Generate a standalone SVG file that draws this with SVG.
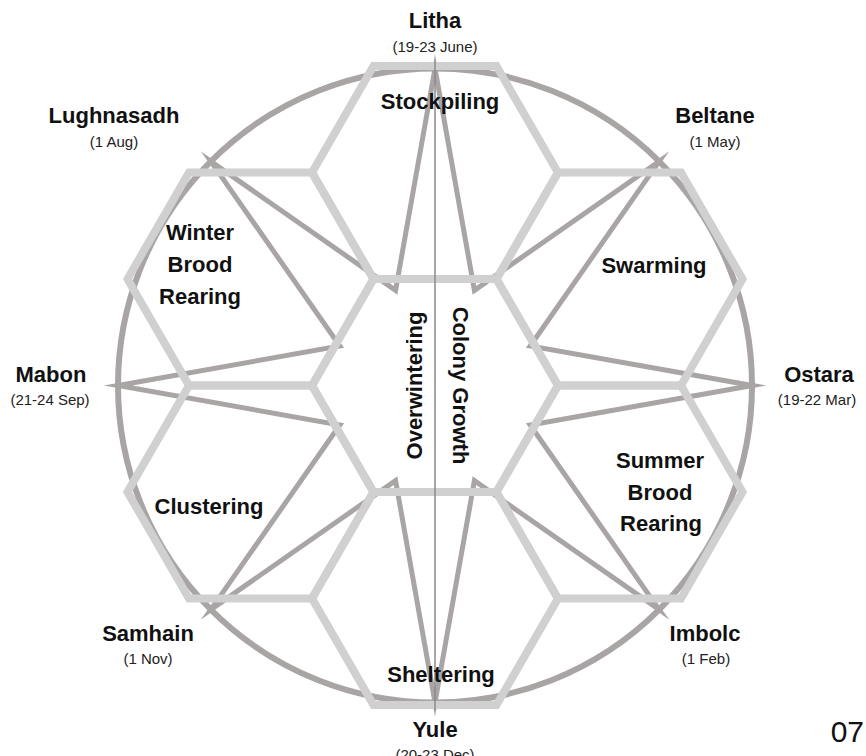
<svg xmlns="http://www.w3.org/2000/svg" width="866" height="756" viewBox="0 0 866 756">
<style>
.ring{fill:none;stroke:#a9a5a5;stroke-width:6}
.star{fill:none;stroke:#a9a5a5;stroke-width:5;stroke-linejoin:miter;stroke-miterlimit:12}
.hex{fill:none;stroke:#d0d0d0;stroke-width:8;stroke-linejoin:miter}
.axis{stroke:#8c8888;stroke-width:1.5}
.big{font-family:"Liberation Sans",Arial,sans-serif;font-weight:bold;font-size:22px;fill:#111;text-anchor:middle}
.small{font-family:"Liberation Sans",Arial,sans-serif;font-size:15px;fill:#222;text-anchor:middle}
.num{font-family:"Liberation Sans",Arial,sans-serif;font-size:30px;fill:#111;text-anchor:end}
</style>
<rect width="866" height="756" fill="#fff"/>
<g id="wheel">
<circle class="ring" cx="435" cy="385.5" r="317"/>
</g>
<g id="connectors">
<polygon class="star" points="435,68.5 474.42,290.34 659.15,161.35 530.16,346.08 752,385.5 530.16,424.92 659.15,609.65 474.42,480.66 435,702.5 395.58,480.66 210.85,609.65 339.84,424.92 118,385.5 339.84,346.08 210.85,161.35 395.58,290.34"/>
</g>
<g id="honeycomb">
<g id="hex-center"><polygon class="hex" points="558,385.5 496.5,279 373.5,279 312,385.5 373.5,492 496.5,492"/></g>
<g id="hex-stockpiling"><polygon class="hex" points="558,172.5 496.5,66 373.5,66 312,172.5 373.5,279 496.5,279"/></g>
<g id="hex-sheltering"><polygon class="hex" points="558,598.5 496.5,492 373.5,492 312,598.5 373.5,705 496.5,705"/></g>
<g id="hex-swarming"><polygon class="hex" points="742.5,279 681,172.5 558,172.5 496.5,279 558,385.5 681,385.5"/></g>
<g id="hex-summer"><polygon class="hex" points="742.5,492 681,385.5 558,385.5 496.5,492 558,598.5 681,598.5"/></g>
<g id="hex-winter"><polygon class="hex" points="373.5,279 312,172.5 189,172.5 127.5,279 189,385.5 312,385.5"/></g>
<g id="hex-clustering"><polygon class="hex" points="373.5,492 312,385.5 189,385.5 127.5,492 189,598.5 312,598.5"/></g>
</g>
<line class="axis" x1="435" y1="62" x2="435" y2="710"/>
<g id="phases">
<g id="stockpiling"><text class="big" x="440" y="109">Stockpiling</text></g>
<g id="swarming"><text class="big" x="654" y="273">Swarming</text></g>
<g id="summer-brood"><text class="big" x="660" y="468">Summer</text><text class="big" x="660" y="500">Brood</text><text class="big" x="661" y="531">Rearing</text></g>
<g id="sheltering"><text class="big" x="441" y="682">Sheltering</text></g>
<g id="clustering"><text class="big" x="209" y="514">Clustering</text></g>
<g id="winter-brood"><text class="big" x="200" y="240">Winter</text><text class="big" x="200" y="272">Brood</text><text class="big" x="200" y="304">Rearing</text></g>
<g id="overwintering"><text class="big" x="422" y="385.5" transform="rotate(-90 422 385.5)">Overwintering</text></g>
<g id="colony-growth"><text class="big" x="453" y="385.5" transform="rotate(90 453 385.5)">Colony Growth</text></g>
</g>
<g id="sabbats">
<g id="litha"><text class="big" x="435" y="28">Litha</text><text class="small" x="435" y="52">(19-23 June)</text></g>
<g id="beltane"><text class="big" x="715" y="123">Beltane</text><text class="small" x="715" y="147">(1 May)</text></g>
<g id="ostara"><text class="big" x="819" y="382">Ostara</text><text class="small" x="817" y="405">(19-22 Mar)</text></g>
<g id="imbolc"><text class="big" x="705" y="641">Imbolc</text><text class="small" x="706" y="664">(1 Feb)</text></g>
<g id="yule"><text class="big" x="435" y="737">Yule</text><text class="small" x="435" y="760">(20-23 Dec)</text></g>
<g id="samhain"><text class="big" x="148" y="641">Samhain</text><text class="small" x="148" y="664">(1 Nov)</text></g>
<g id="mabon"><text class="big" x="51" y="382">Mabon</text><text class="small" x="50" y="405">(21-24 Sep)</text></g>
<g id="lughnasadh"><text class="big" x="114" y="123">Lughnasadh</text><text class="small" x="114" y="147">(1 Aug)</text></g>
</g>
<text class="num" x="864" y="742">07</text>
</svg>
